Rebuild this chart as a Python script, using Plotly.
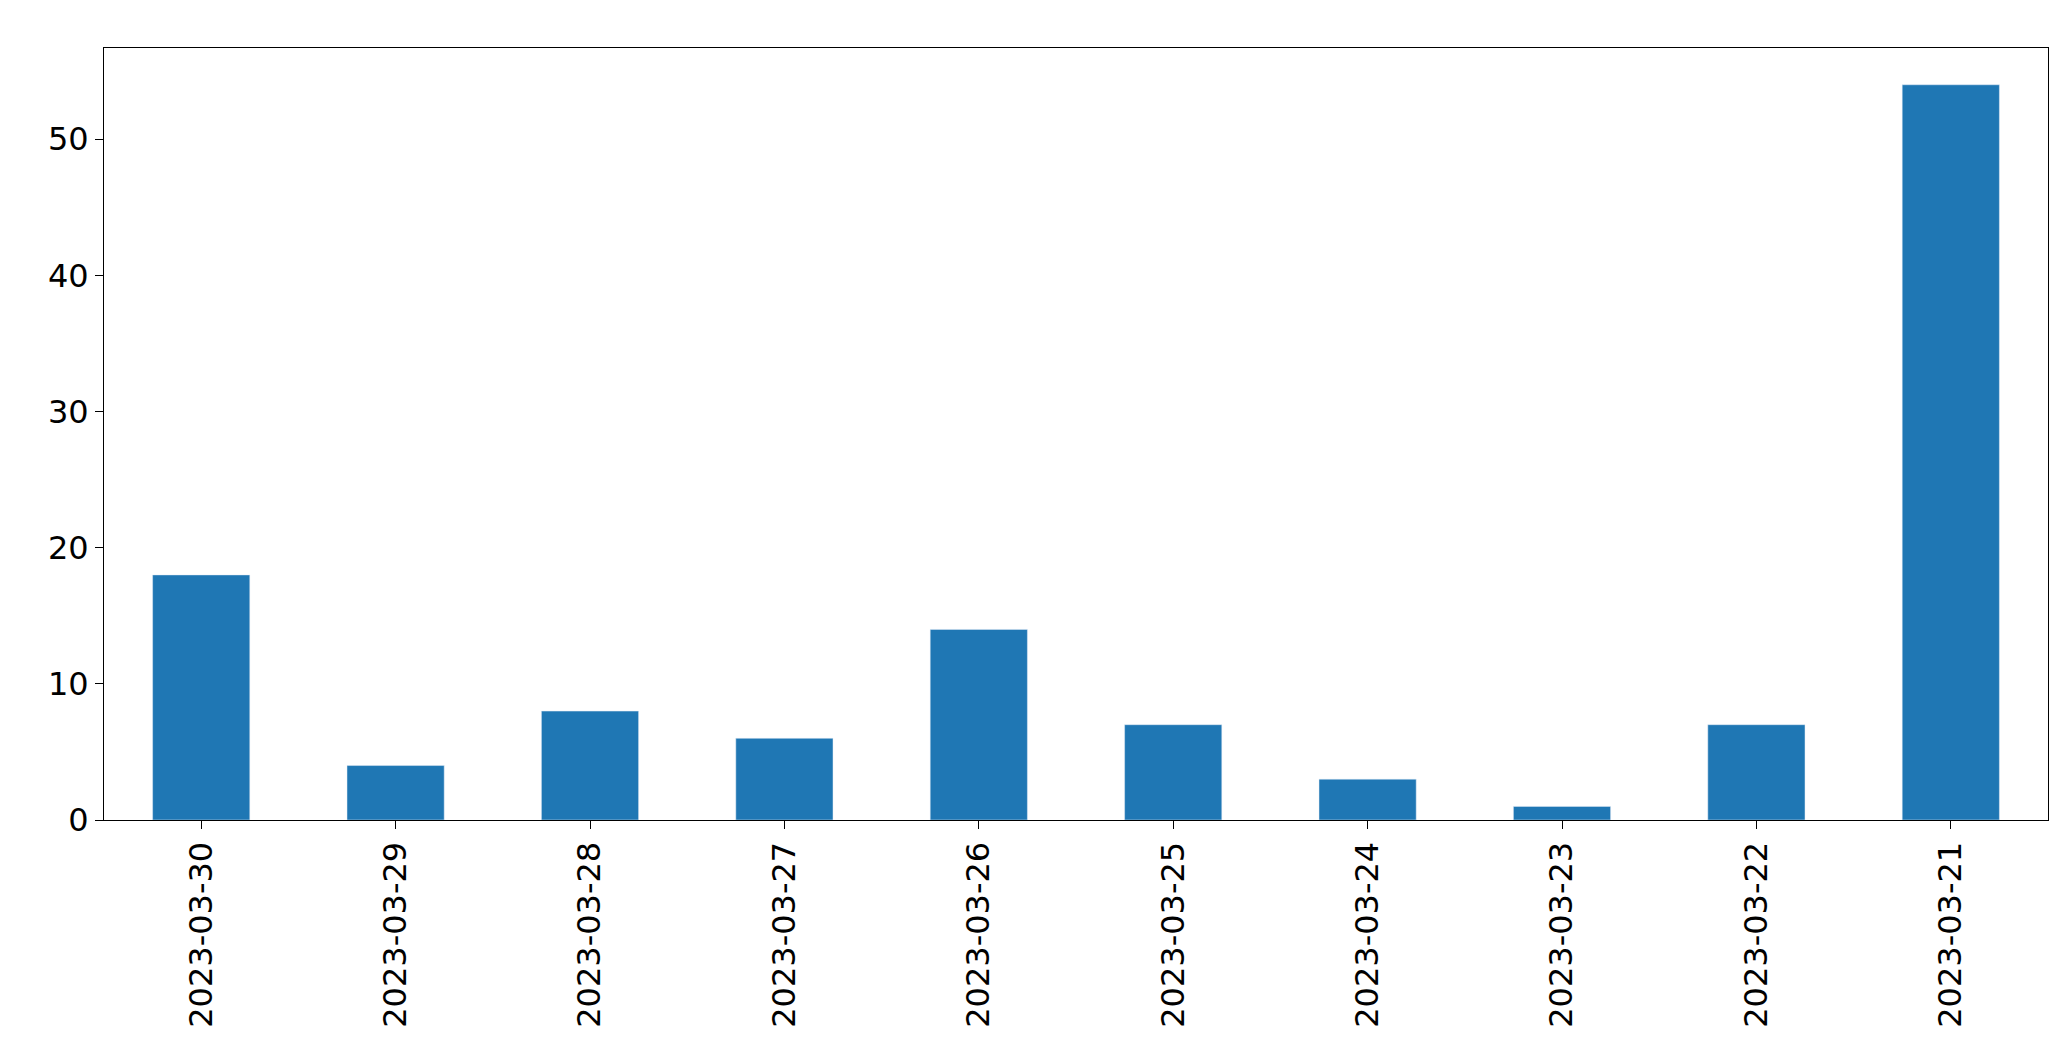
import plotly.graph_objects as go

dates = ["2023-03-30","2023-03-29","2023-03-28","2023-03-27","2023-03-26",
         "2023-03-25","2023-03-24","2023-03-23","2023-03-22","2023-03-21"]
counts = [18, 4, 8, 6, 14, 7, 3, 1, 7, 54]

fig = go.Figure(go.Bar(x=dates, y=counts, marker_color="#1f77b4", width=0.5))
fig.update_layout(
    width=2071, height=1061, plot_bgcolor="white", paper_bgcolor="white",
    margin=dict(l=96, r=31, t=40, b=249), showlegend=False,
    font=dict(family="DejaVu Sans", size=32, color="black"),
)
fig.update_xaxes(type="category", tickangle=-90, showline=True, linecolor="black",
                 mirror=True, ticks="outside", ticklen=8, tickcolor="black",
                 range=[-0.5, 9.5], showgrid=False)
fig.update_yaxes(range=[0, 56.7], tickvals=[0,10,20,30,40,50], showline=True,
                 linecolor="black", mirror=True, ticks="outside", ticklen=8,
                 tickcolor="black", showgrid=False, zeroline=False)
fig.write_html("out.html")
